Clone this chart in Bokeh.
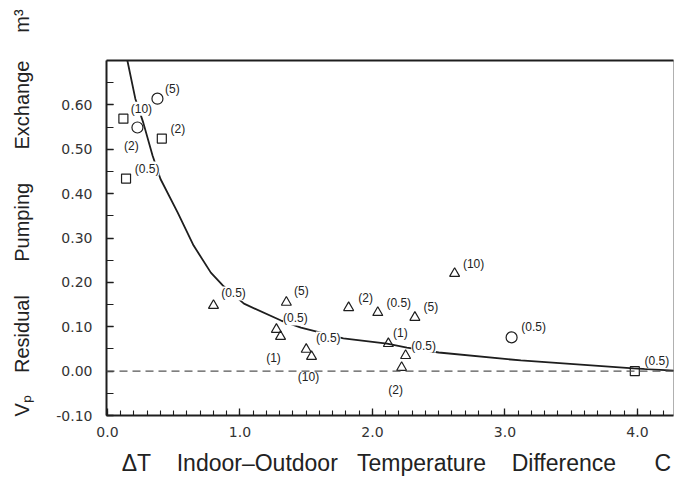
from bokeh.plotting import figure
from bokeh.models import (ColumnDataSource, Span, LinearAxis, FixedTicker,
                          SingleIntervalTicker, PrintfTickFormatter)
from bokeh.embed import file_html
from bokeh.resources import INLINE
from bokeh.core.properties import value

# ---------------- data ----------------
sq_x = [0.12, 0.41, 0.14, 3.98]
sq_y = [0.569, 0.524, 0.434, 0.0]
sq_lab = ["(10)", "(2)", "(0.5)", "(0.5)"]

ci_x = [0.377, 0.226, 3.05]
ci_y = [0.614, 0.549, 0.076]
ci_lab = ["(5)", "(2)", "(0.5)"]

tr_x = [0.80, 1.35, 1.275, 1.306, 1.50, 1.54, 1.82, 2.04, 2.32, 2.62, 2.12, 2.25, 2.22]
tr_y = [0.148, 0.155, 0.094, 0.078, 0.049, 0.033, 0.143, 0.132, 0.121, 0.22, 0.062, 0.035, 0.008]
tr_lab = ["(0.5)", "(5)", "(0.5)", "(1)", "(0.5)", "(10)", "(2)", "(0.5)", "(5)",
          "(10)", "(1)", "(0.5)", "(2)"]

curve_x = [0.15, 0.21, 0.27, 0.34, 0.40, 0.53, 0.65, 0.78, 0.87, 1.03, 1.31, 1.46,
           1.78, 2.11, 2.26, 2.50, 3.12, 3.97, 4.28]
curve_y = [0.70, 0.614, 0.56, 0.486, 0.433, 0.357, 0.283, 0.222, 0.193, 0.152, 0.114,
           0.098, 0.074, 0.062, 0.053, 0.042, 0.024, 0.006, 0.001]

# label placement (screen-pixel offsets from each marker; layout only)
sq_dx = [18, 16, 21, 22]
sq_dy = [-10, -10, -10, -10]
ci_dx = [15, -6, 22]
ci_dy = [-10, 18, -10]
tr_dx = [20, 15, 19, -7, 22, -3, 17, 21, 16, 19, 12, 18, -6]
tr_dy = [-12, -11, -11, 21, -11, 21, -10, -10, -10, -10, -11, -10, 22]

INK = "#1e1e1e"

p = figure(width=674, height=479, x_range=(-0.0075, 4.272), y_range=(-0.10, 0.70),
           output_backend="svg", toolbar_location=None,
           min_border_left=106, min_border_top=60, min_border_right=1, min_border_bottom=64)
p.background_fill_color = "white"
p.border_fill_color = "white"
p.outline_line_color = "#b0b0b0"
p.outline_line_width = 1
p.xgrid.visible = False
p.ygrid.visible = False

# axes styling
for ax in (p.xaxis[0], p.yaxis[0]):
    ax.axis_line_width = 2
    ax.axis_line_color = INK
    ax.major_tick_in = 7
    ax.major_tick_out = 0
    ax.minor_tick_in = 5
    ax.minor_tick_out = 0
    ax.major_tick_line_color = INK
    ax.minor_tick_line_color = INK
    ax.major_tick_line_width = 1.3
    ax.minor_tick_line_width = 1.1
    ax.major_label_text_font = "DejaVu Sans"
    ax.major_label_text_font_size = "14px"
    ax.major_label_text_color = "#333333"
    ax.axis_label_text_font = "Liberation Sans"
    ax.axis_label_text_font_style = "normal"
    ax.axis_label_text_color = "#222222"

NB = "\u00a0"

p.xaxis.ticker = SingleIntervalTicker(interval=1.0, num_minor_ticks=10)
p.xaxis.formatter = PrintfTickFormatter(format="%.1f")
p.xaxis.major_label_standoff = 11
p.xaxis.axis_label_standoff = 10
p.xaxis.axis_label_text_font_size = "23px"
p.xaxis.axis_label = (NB * 2 + "\u0394T" + NB * 4 + "Indoor\u2013Outdoor" + NB * 3 + "Temperature"
                      + NB * 4 + "Difference" + NB * 6 + "C")

p.yaxis.ticker = SingleIntervalTicker(interval=0.1, num_minor_ticks=2)
p.yaxis.minor_tick_in = 7
p.yaxis.formatter = PrintfTickFormatter(format="%.2f")
p.yaxis.major_label_standoff = 14
p.yaxis.axis_label_standoff = 20
p.yaxis.axis_label_text_font_size = "20px"
p.yaxis.axis_label = (NB * 9 + "V\u209a" + NB * 4 + "Residual" + NB * 6 + "Pumping" + NB * 6
                      + "Exchange" + NB * 5 + "m\u00b3")

top = LinearAxis(ticker=FixedTicker(ticks=[]), axis_line_width=2, axis_line_color=INK,
                 major_tick_line_color=None, minor_tick_line_color=None)
p.add_layout(top, "above")

# zero reference
p.add_layout(Span(location=0.0, dimension="width", line_color="#555555",
                  line_width=1.3, line_dash="8 5"))

# fitted curve
p.line(curve_x, curve_y, line_color=INK, line_width=1.8)

label_style = dict(text_font=value("Liberation Sans"), text_font_size="12px",
                   text_color="#222222", text_align="center", text_baseline="middle",
                   background_fill_color="white")

sq = ColumnDataSource(dict(x=sq_x, y=sq_y, t=sq_lab, dx=sq_dx, dy=sq_dy))
ci = ColumnDataSource(dict(x=ci_x, y=ci_y, t=ci_lab, dx=ci_dx, dy=ci_dy))
tr = ColumnDataSource(dict(x=tr_x, y=tr_y, t=tr_lab, dx=tr_dx, dy=tr_dy))

for src in (sq, ci, tr):
    p.text(x="x", y="y", text="t", x_offset="dx", y_offset="dy", source=src, **label_style)

p.scatter(x="x", y="y", source=sq, marker="square", size=9, fill_color=None,
          line_color=INK, line_width=1.2)
p.scatter(x="x", y="y", source=ci, marker="circle", size=11, fill_color=None,
          line_color=INK, line_width=1.2)
p.scatter(x="x", y="y", source=tr, marker="triangle", size=10, fill_color=None,
          line_color=INK, line_width=1.2)

open("out.html", "w").write(file_html(p, INLINE))
